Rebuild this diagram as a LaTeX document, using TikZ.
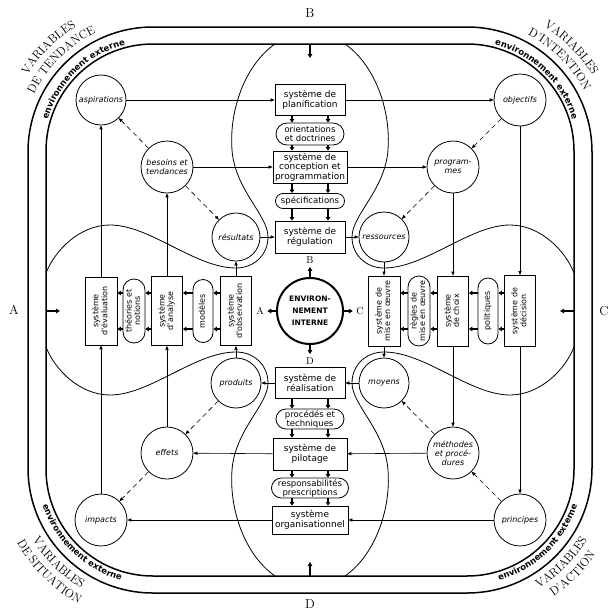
\documentclass[tikz,border=0pt]{standalone}
\usepackage{fontspec}
\usepackage{graphicx}
\usetikzlibrary{arrows.meta,decorations.text}
\newfontfamily\dvs{DejaVu Sans}
\newcommand\bxfont{\dvs\fontsize{9}{9.5}\selectfont}
\newcommand\stfont{\dvs\fontsize{8.5}{9}\selectfont}
\newcommand\vfont{\dvs\fontsize{8}{9}\selectfont}
\newcommand\crfont{\dvs\itshape\fontsize{8}{9}\selectfont}
\newcommand\envfont{\dvs\bfseries\fontsize{7.5}{12}\selectfont}
\newcommand\bandfont{\dvs\bfseries\fontsize{8.5}{9}\selectfont}
\newcommand\biglab{\fontsize{13}{13}\selectfont}
\newcommand\smlab{\fontsize{10}{10}\selectfont}
\newcommand\varlab{\fontsize{12}{14}\selectfont}
\newcommand\rotlines[1]{\rotatebox{90}{\renewcommand\arraystretch{0.95}\begin{tabular}{@{}c@{}}#1\end{tabular}}}
\tikzset{
  box/.style={draw, line width=0.8pt, inner sep=0pt, align=center, font=\bxfont},
  stad/.style={box, rounded corners=#1, font=\stfont},
  vbox/.style={box, font=\vfont},
  circ/.style={draw, circle, line width=0.8pt, inner sep=0pt, minimum size=#1, align=center, font=\crfont},
  arr/.style={-{Triangle[length=4pt,width=3.2pt]}, line width=0.6pt},
  darr/.style={arr, dash pattern=on 5pt off 3.5pt},
  carr/.style={-{Triangle[length=3.5pt,width=4.5pt]}, line width=1.4pt},
  sarr/.style={-{Triangle[length=4pt,width=4.5pt]}, line width=1.2pt},
  frm/.style={line width=1.5pt},
  lobe/.style={line width=0.8pt},
  band/.style={decorate, decoration={text along path, text align=center, text={|\bandfont|environnement externe}}},
  varl/.style={decorate, decoration={text along path, text align=center, text={|\varlab|#1}}},
  quadcurve/.pic={\draw[lobe] (46,273) .. controls (55,250) and (80,225) .. (110,225)
     .. controls (150,225) and (195,268) .. (236,268)
     .. controls (254,268) and (268,255) .. (268,237)
     .. controls (268,215) and (235,190) .. (232,150)
     .. controls (229,110) and (245,65) .. (275,44);}
}
\begin{document}
\begin{tikzpicture}[x=1pt,y=-1pt]
\path[fill=white, use as bounding box] (0,0) rectangle (616,616);

% frames
\draw[frm, rounded corners=125pt] (28,27) rectangle (592,593);
\draw[frm, rounded corners=107pt] (46,44) rectangle (574,576);

% band texts
\path[band] ([shift={(190:110)}]153,151) arc[start angle=190, end angle=262, radius=110];
\path[band] ([shift={(278:110)}]467,151) arc[start angle=278, end angle=350, radius=110];
\path[band] ([shift={(170:116)}]153,469) arc[start angle=170, end angle=98, radius=116];
\path[band] ([shift={(82:116)}]467,469) arc[start angle=82, end angle=10, radius=116];

% big labels
\node[font=\biglab] (lB) at (310,13) {B};
\node[font=\biglab] (lD) at (310,604) {D};
\node[font=\biglab] (lA) at (14,310) {A};
\node[font=\biglab] (lC) at (604,311) {C};

% corner labels (curved along the frame)
\path[varl=VARIABLES] ([shift={(180:147)}]153,152) arc[start angle=180, end angle=270, radius=147];
\path[varl=DE TENDANCE] ([shift={(180:132)}]153,152) arc[start angle=180, end angle=270, radius=132];
\path[varl=VARIABLES] ([shift={(270:147)}]467,152) arc[start angle=270, end angle=360, radius=147];
\path[varl=D'INTENTION] ([shift={(270:132)}]467,152) arc[start angle=270, end angle=360, radius=132];
\path[varl=VARIABLES] ([shift={(180:140)}]153,468) arc[start angle=180, end angle=90, radius=140];
\path[varl=DE SITUATION] ([shift={(180:155)}]153,468) arc[start angle=180, end angle=90, radius=155];
\path[varl=VARIABLES] ([shift={(90:140)}]467,468) arc[start angle=90, end angle=0, radius=140];
\path[varl=D'ACTION] ([shift={(90:155)}]467,468) arc[start angle=90, end angle=0, radius=155];

% lobe curves
\pic at (0,0) {quadcurve};
\pic[xscale=-1] at (620,0) {quadcurve};
\pic[yscale=-1] at (0,620) {quadcurve};
\pic[scale=-1] at (620,620) {quadcurve};

% frame arrows
\coordinate (fT) at (310,44);  \coordinate (fTt) at (310,58);
\coordinate (fB) at (310,576); \coordinate (fBt) at (310,562);
\coordinate (fL) at (46,311);  \coordinate (fLt) at (60,311);
\coordinate (fR) at (574,311); \coordinate (fRt) at (560,311);
\draw[sarr] (fT) -- (fTt);
\draw[sarr] (fB) -- (fBt);
\draw[sarr] (fL) -- (fLt);
\draw[sarr] (fR) -- (fRt);

% circles
\node[circ=50pt] (asp) at (101,100) {aspirations};
\node[circ=52pt] (bes) at (167,167) {besoins et\\tendances};
\node[circ=48pt] (res) at (236,237) {résultats};
\node[circ=52pt] (obj) at (520,100) {objectifs};
\node[circ=52pt] (prog) at (453,167) {program-\\mes};
\node[circ=50pt] (ress) at (384,237) {ressources};
\node[circ=50pt] (prod) at (236,383) {produits};
\node[circ=52pt] (eff) at (167,453) {effets};
\node[circ=52pt] (imp) at (101,520) {impacts};
\node[circ=50pt] (moy) at (384,383) {moyens};
\node[circ=52pt] (meth) at (453,453) {méthodes\\et procé-\\dures};
\node[circ=52pt] (princ) at (520,520) {principes};

% top column
\node[box, minimum width=70pt, minimum height=31pt] (plan) at (310,100) {système de\\planification};
\node[stad=11pt, minimum width=68pt, minimum height=22pt] (orient) at (310,134) {orientations\\et doctrines};
\node[box, minimum width=74pt, minimum height=32pt] (conc) at (310,167) {système de\\conception et\\programmation};
\node[stad=7.5pt, minimum width=69pt, minimum height=15pt] (spec) at (310,201) {spécifications};
\node[box, minimum width=70pt, minimum height=32pt] (regul) at (310,237) {système de\\régulation};

% bottom column
\node[box, minimum width=70pt, minimum height=31pt] (real) at (310,383) {système de\\réalisation};
\node[stad=10pt, minimum width=68pt, minimum height=20pt] (proc) at (310,419) {procédés et\\techniques};
\node[box, minimum width=74pt, minimum height=32pt] (pilot) at (310,454) {système de\\pilotage};
\node[stad=10pt, minimum width=77pt, minimum height=20pt] (respo) at (310,488) {responsabilités\\prescriptions};
\node[box, minimum width=76pt, minimum height=28pt] (organ) at (310,520) {système\\organisationnel};

% left column
\node[vbox, minimum width=32pt, minimum height=68pt] (evl) at (101,311) {\rotlines{système\\d'évaluation}};
\node[vbox, rounded corners=11pt, minimum width=22pt, minimum height=64pt] (theo) at (134,311) {\rotlines{théories et\\notions}};
\node[vbox, minimum width=31pt, minimum height=69pt] (ana) at (167,311) {\rotlines{système\\d'analyse}};
\node[vbox, rounded corners=10pt, minimum width=20pt, minimum height=63pt] (mod) at (203,311) {\rotlines{modèles}};
\node[vbox, minimum width=31pt, minimum height=69pt] (obs) at (236,311) {\rotlines{système\\d'observation}};

% right column
\node[vbox, minimum width=32pt, minimum height=70pt] (mise) at (384,311) {\rotlines{système de\\mise en œuvre}};
\node[vbox, rounded corners=11pt, minimum width=22pt, minimum height=70pt] (regl) at (419,311) {\rotlines{règles de\\mise en œuvre}};
\node[vbox, minimum width=31pt, minimum height=70pt] (choix) at (453,311) {\rotlines{système\\de choix}};
\node[vbox, rounded corners=10pt, minimum width=20pt, minimum height=66pt] (poli) at (488,311) {\rotlines{politiques}};
\node[vbox, minimum width=31pt, minimum height=71pt] (deci) at (520,311) {\rotlines{système de\\décision}};

% centre
\node[draw, circle, line width=2pt, minimum size=66pt, inner sep=0pt, align=center, font=\envfont] (env) at (310,311) {ENVIRON-\\NEMENT\\INTERNE};
\node[font=\smlab] (cA) at (260,311) {A};
\node[font=\smlab] (cB) at (310,260) {B};
\node[font=\smlab] (cC) at (360,311) {C};
\node[font=\smlab] (cD) at (310,361) {D};
\draw[sarr] (env) -- (cA);
\draw[sarr] (env) -- (cB);
\draw[sarr] (env) -- (cC);
\draw[sarr] (env) -- (cD);

% column connectors
\foreach \a/\b in {plan/orient, orient/conc, conc/spec, spec/regul, real/proc, proc/pilot, pilot/respo, respo/organ}{
  \draw[carr] ([xshift=-18pt]\a.south) -- ([xshift=-18pt]\b.north);
  \draw[carr] ([xshift=18pt]\a.south) -- ([xshift=18pt]\b.north);
}
\foreach \a/\b in {theo/evl, ana/theo, mod/ana, obs/mod, regl/mise, choix/regl, poli/choix, deci/poli}{
  \draw[carr] ([yshift=18pt]\a.west) -- ([yshift=18pt]\b.east);
  \draw[carr] ([yshift=-18pt]\a.west) -- ([yshift=-18pt]\b.east);
}

% horizontal connectors
\draw[arr] (asp) -- (plan);
\draw[arr] (plan) -- (obj);
\draw[arr] (bes) -- (conc);
\draw[arr] (conc) -- (prog);
\draw[arr] (res) -- (regul);
\draw[arr] (regul) -- (ress);
\draw[arr] (real) -- (prod);
\draw[arr] (moy) -- (real);
\draw[arr] (pilot) -- (eff);
\draw[arr] (meth) -- (pilot);
\draw[arr] (organ) -- (imp);
\draw[arr] (princ) -- (organ);

% vertical connectors
\draw[arr] (evl) -- (asp);
\draw[arr] (ana) -- (bes);
\draw[arr] (obs) -- (res);
\draw[arr] (imp) -- (evl);
\draw[arr] (eff) -- (ana);
\draw[arr] (prod) -- (obs);
\draw[arr] (obj) -- (deci);
\draw[arr] (prog) -- (choix);
\draw[arr] (ress) -- (mise);
\draw[arr] (choix) -- (meth);
\draw[arr] (deci) -- (princ);
\draw[arr] (mise) -- (moy);

% dashed connectors
\draw[darr] (bes) -- (asp);
\draw[darr] (bes) -- (res);
\draw[darr] (obj) -- (prog);
\draw[darr] (prog) -- (ress);
\draw[darr] (prod) -- (eff);
\draw[darr] (eff) -- (imp);
\draw[darr] (meth) -- (moy);
\draw[darr] (princ) -- (meth);
\end{tikzpicture}
\end{document}
